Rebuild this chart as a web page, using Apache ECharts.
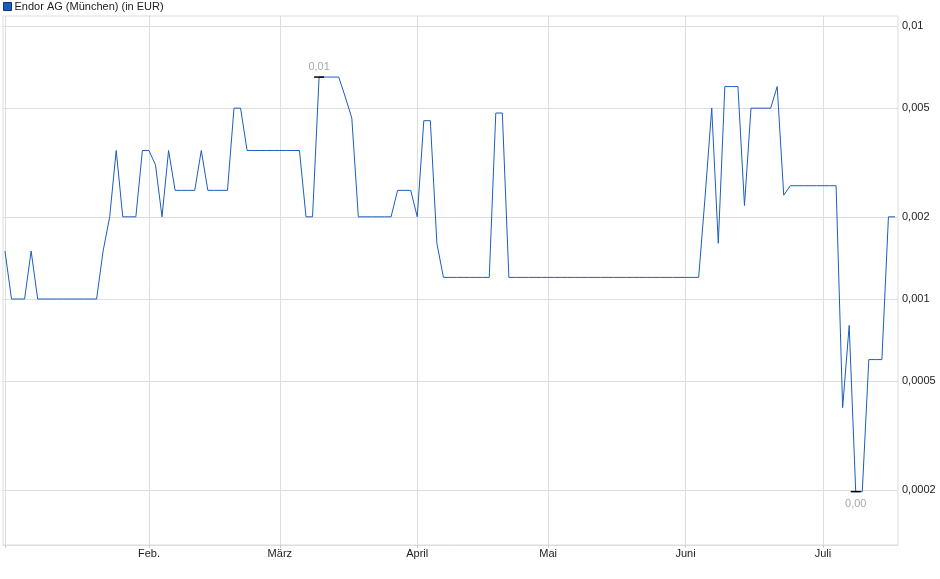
<!DOCTYPE html>
<html><head><meta charset="utf-8">
<script src="https://cdn.jsdelivr.net/npm/echarts@6/dist/echarts.min.js"></script>
<style>html,body{margin:0;padding:0;background:#fff}#c{width:940px;height:579px}</style>
</head><body><div id="c"></div>
<script>
const seriesName = 'Endor AG (München) (in EUR)';
// one value per trading day, 2 Jan – 16 Jul
const prices = [
  0.0015, 0.001, 0.001, 0.001, 0.0015, 0.001, 0.001, 0.001, 0.001, 0.001,
  0.001, 0.001, 0.001, 0.001, 0.001, 0.0015, 0.002, 0.0035, 0.002, 0.002,
  0.002, 0.0035, 0.0035, 0.0031, 0.002, 0.0035, 0.0025, 0.0025, 0.0025, 0.0025,
  0.0035, 0.0025, 0.0025, 0.0025, 0.0025, 0.005, 0.005, 0.0035, 0.0035, 0.0035,
  0.0035, 0.0035, 0.0035, 0.0035, 0.0035, 0.0035, 0.002, 0.002, 0.0065, 0.0065,
  0.0065, 0.0065, 0.0055, 0.0046, 0.002, 0.002, 0.002, 0.002, 0.002, 0.002,
  0.0025, 0.0025, 0.0025, 0.002, 0.0045, 0.0045, 0.0016, 0.0012, 0.0012, 0.0012,
  0.0012, 0.0012, 0.0012, 0.0012, 0.0012, 0.0048, 0.0048, 0.0012, 0.0012, 0.0012,
  0.0012, 0.0012, 0.0012, 0.0012, 0.0012, 0.0012, 0.0012, 0.0012, 0.0012, 0.0012,
  0.0012, 0.0012, 0.0012, 0.0012, 0.0012, 0.0012, 0.0012, 0.0012, 0.0012, 0.0012,
  0.0012, 0.0012, 0.0012, 0.0012, 0.0012, 0.0012, 0.0012, 0.0024, 0.005, 0.0016,
  0.006, 0.006, 0.006, 0.0022, 0.005, 0.005, 0.005, 0.005, 0.006, 0.0024,
  0.0026, 0.0026, 0.0026, 0.0026, 0.0026, 0.0026, 0.0026, 0.0026, 0.0004, 0.0008,
  0.000197, 0.000197, 0.0006, 0.0006, 0.0006, 0.002, 0.002
];
const monthLabels = ['Feb.', 'März', 'April', 'Mai', 'Juni', 'Juli'];
const monthStartIdx = [22, 42, 63, 83, 104, 125];
const xTickIdx = [0, 22, 42, 63, 83, 104, 125];
const yTickValues = [0.01, 0.005, 0.002, 0.001, 0.0005, 0.0002];
const yMin = 0.0001256, yMax = 0.01088;

const data = prices.map((v, i) => [i, v]);
const maxV = Math.max(...prices), minV = Math.min(...prices);
const maxI = prices.indexOf(maxV), minI = prices.indexOf(minV);
const fmt = v => String(Number(Number(v).toPrecision(6))).replace('.', ',');
const fmt2 = v => v.toFixed(2).replace('.', ',');

const chart = echarts.init(document.getElementById('c'), null, {renderer: 'canvas'});
chart.setOption({
  animation: false,
  textStyle: {fontFamily: 'Liberation Sans, Arial, sans-serif'},
  legend: {
    data: [seriesName], left: 1, top: 0, padding: [1, 0, 0, 2],
    icon: 'rect', itemWidth: 8, itemHeight: 8,
    textStyle: {fontSize: 11, color: '#222', padding: [0, 0, 0, -2]},
    itemStyle: {borderColor: '#0d3677', borderWidth: 1}
  },
  grid: {left: 3, right: 42, top: 16, bottom: 34, show: true, borderColor: '#ddd', borderWidth: 1, outerBoundsMode: 'none', containLabel: false},
  xAxis: {
    type: 'value', min: -0.3, max: 136.46,
    axisLine: {show: true, lineStyle: {color: '#ddd'}},
    axisTick: {show: true, length: 3, customValues: xTickIdx, lineStyle: {color: '#ccc'}},
    axisLabel: {customValues: monthStartIdx, color: '#222', fontSize: 11, margin: 3,
      formatter: v => monthLabels[monthStartIdx.indexOf(Math.round(v))] || ''},
    splitLine: {show: true, lineStyle: {color: '#ddd'}}
  },
  yAxis: {
    type: 'log', logBase: 10, min: yMin, max: yMax, position: 'right',
    axisLine: {show: false},
    axisTick: {show: false, customValues: yTickValues},
    axisLabel: {customValues: yTickValues, formatter: v => fmt(v), color: '#222', fontSize: 11, margin: 4},
    splitLine: {show: true, lineStyle: {color: '#ddd'}}
  },
  series: [{
    name: seriesName, type: 'line', data: data, showSymbol: false, symbol: 'none',
    itemStyle: {color: '#1c5cbf'},
    lineStyle: {color: '#1c5cbf', width: 1},
    markPoint: {
      symbol: 'rect', symbolSize: [10, 1.5], itemStyle: {color: '#000'},
      label: {color: '#a8a8a8', fontSize: 11},
      data: [
        {coord: [maxI, maxV], value: maxV, label: {position: 'top', distance: 4, formatter: () => fmt2(maxV)}},
        {coord: [minI, minV], value: minV, label: {position: 'bottom', distance: 6, formatter: () => fmt2(minV)}}
      ]
    }
  }]
});
</script></body></html>
